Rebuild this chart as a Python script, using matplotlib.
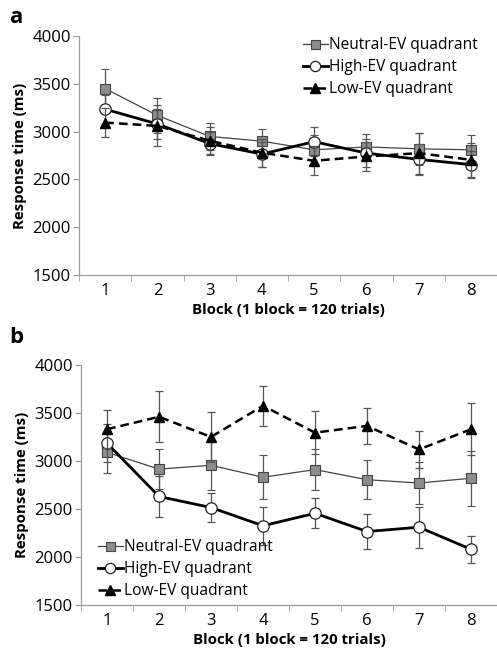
import matplotlib
matplotlib.use("Agg")
import matplotlib.pyplot as plt
import numpy as np

plt.rcParams["font.family"] = ["Open Sans", "DejaVu Sans"]

BLOCKS = [1, 2, 3, 4, 5, 6, 7, 8]
LABELS = ["Neutral-EV quadrant", "High-EV quadrant", "Low-EV quadrant"]

# panel a
A_NEUTRAL = [3450, 3170, 2950, 2900, 2810, 2840, 2820, 2810]
A_NEUTRAL_ERR = [210, 185, 140, 125, 150, 140, 165, 155]
A_HIGH = [3235, 3080, 2875, 2765, 2895, 2775, 2710, 2655]
A_HIGH_ERR = [150, 160, 120, 130, 155, 150, 160, 140]
A_LOW = [3095, 3060, 2905, 2780, 2695, 2740, 2775, 2705]
A_LOW_ERR = [155, 215, 140, 145, 150, 150, 215, 180]

# panel b
B_NEUTRAL = [3090, 2915, 2955, 2830, 2910, 2805, 2770, 2820]
B_NEUTRAL_ERR = [220, 210, 260, 230, 215, 205, 220, 285]
B_HIGH = [3185, 2630, 2515, 2325, 2455, 2265, 2310, 2080]
B_HIGH_ERR = [200, 210, 155, 200, 155, 180, 215, 140]
B_LOW = [3330, 3460, 3250, 3575, 3295, 3365, 3120, 3330]
B_LOW_ERR = [200, 265, 265, 210, 225, 185, 190, 270]

SPINE = "#999999"


def draw_panel(ax, neutral, neutral_err, high, high_err, low, low_err, leg_loc, leg_anchor):
    x = np.array(BLOCKS)
    eb = dict(ecolor="#555555", elinewidth=0.9, capsize=3, capthick=0.9)
    ax.errorbar(x, neutral, yerr=neutral_err, color="#444444", lw=0.9,
                marker="s", ms=7.2, mfc="#8c8c8c", mec="#444444", mew=0.8,
                label=LABELS[0], zorder=3, **eb)
    ax.errorbar(x, high, yerr=high_err, color="black", lw=2.0,
                marker="o", ms=8.2, mfc="white", mec="#222222", mew=0.9,
                label=LABELS[1], zorder=4, **eb)
    ax.errorbar(x, low, yerr=low_err, color="black", lw=1.8, ls=(0, (3.5, 2)),
                marker="^", ms=7.5, mfc="black", mec="black",
                label=LABELS[2], zorder=5, **eb)

    ax.set_xlim(0.5, 8.5)
    ax.set_ylim(1500, 4000)
    ax.set_yticks([1500, 2000, 2500, 3000, 3500, 4000])
    ax.set_xticks(BLOCKS)
    ax.set_xticks(np.arange(0.5, 8.6, 1), minor=True)
    ax.tick_params(axis="x", which="major", length=0, labelsize=12, pad=6)
    ax.tick_params(axis="x", which="minor", length=4, color=SPINE, direction="out")
    ax.tick_params(axis="y", length=4, color=SPINE, labelsize=12, pad=2)
    for s in ("top", "right"):
        ax.spines[s].set_visible(False)
    for s in ("left", "bottom"):
        ax.spines[s].set_color(SPINE)
        ax.spines[s].set_linewidth(0.9)
    ax.set_xlabel("Block (1 block = 120 trials)", fontsize=10.8, fontweight="bold", labelpad=3)
    ax.set_ylabel("Response time (ms)", fontsize=10.8, fontweight="bold", labelpad=4)

    handles, labels = ax.get_legend_handles_labels()
    handles = [h[0] for h in handles]
    ax.legend(handles, labels, loc=leg_loc, bbox_to_anchor=leg_anchor, frameon=False,
              fontsize=11.2, handlelength=1.6, handletextpad=0.1, labelspacing=0.38,
              borderpad=0, borderaxespad=0, markerscale=0.9)


fig = plt.figure(figsize=(4.97, 6.51), dpi=100)
ax_a = fig.add_axes([0.159, 0.5776, 0.841, 0.367])
ax_b = fig.add_axes([0.163, 0.0707, 0.837, 0.3687])

draw_panel(ax_a, A_NEUTRAL, A_NEUTRAL_ERR, A_HIGH, A_HIGH_ERR, A_LOW, A_LOW_ERR,
           "upper right", (0.955, 0.995))
draw_panel(ax_b, B_NEUTRAL, B_NEUTRAL_ERR, B_HIGH, B_HIGH_ERR, B_LOW, B_LOW_ERR,
           "lower left", (0.04, 0.025))

fig.text(0.018, 0.99, "a", fontsize=16, fontweight="bold", va="top")
fig.text(0.018, 0.497, "b", fontsize=16, fontweight="bold", va="top")

fig.savefig("out.png", dpi=100)
